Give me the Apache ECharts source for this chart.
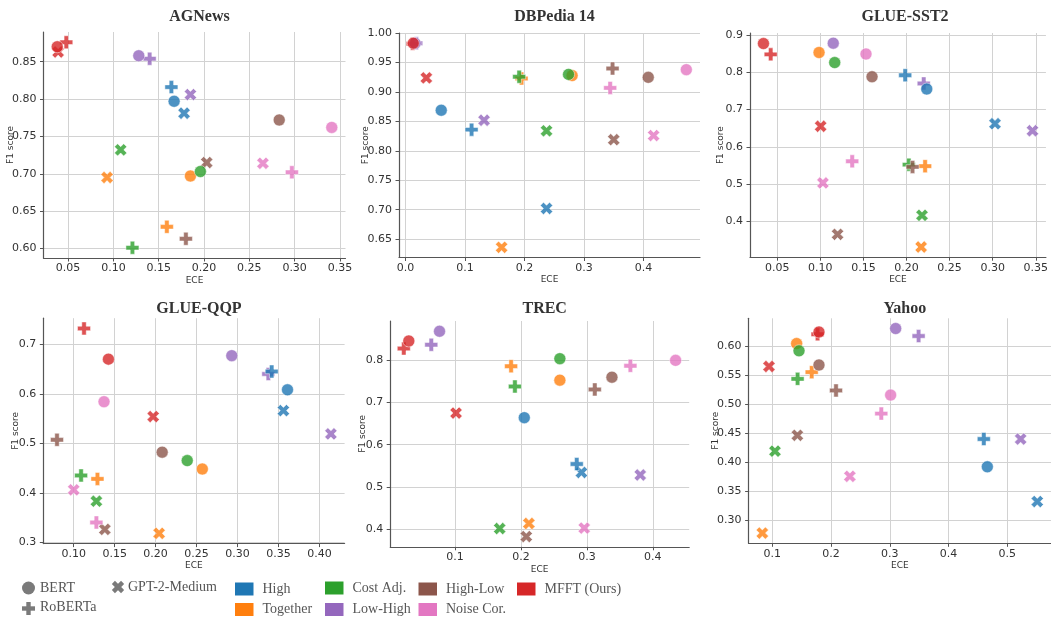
<!DOCTYPE html>
<html>
<head>
<meta charset="utf-8">
<script src="https://cdn.jsdelivr.net/npm/echarts@6/dist/echarts.min.js"></script>
<style>
html, body { margin: 0; padding: 0; background: #fff; }
#chart { width: 1051px; height: 619px; }
</style>
</head>
<body>
<div id="chart"></div>
<script>
// methods, in legend order
const methods = ['High', 'Together', 'Cost Adj.', 'Low-High', 'High-Low', 'Noise Cor.', 'MFFT (Ours)'];
const models = ['BERT', 'GPT-2-Medium', 'RoBERTa'];

// [ECE, F1] per method (same order as methods)
const agnewsBert    = [[0.167, 0.797], [0.185, 0.697], [0.196, 0.703], [0.128, 0.858], [0.283, 0.772], [0.341, 0.762], [0.038, 0.870]];
const agnewsGpt2    = [[0.178, 0.781], [0.093, 0.695], [0.108, 0.732], [0.185, 0.806], [0.203, 0.715], [0.265, 0.714], [0.039, 0.863]];
const agnewsRoberta = [[0.164, 0.816], [0.159, 0.629], [0.121, 0.601], [0.140, 0.854], [0.180, 0.613], [0.297, 0.702], [0.048, 0.876]];

const dbpediaBert    = [[0.060, 0.869], [0.280, 0.928], [0.274, 0.930], [0.016, 0.983], [0.408, 0.925], [0.472, 0.938], [0.013, 0.983]];
const dbpediaGpt2    = [[0.237, 0.702], [0.1615, 0.636], [0.237, 0.834], [0.132, 0.852], [0.350, 0.819], [0.417, 0.826], [0.035, 0.924]];
const dbpediaRoberta = [[0.111, 0.836], [0.195, 0.923], [0.191, 0.926], [0.018, 0.983], [0.348, 0.940], [0.344, 0.907], [0.012, 0.982]];

const sst2Bert    = [[0.2235, 0.755], [0.0985, 0.853], [0.1167, 0.826], [0.115, 0.878], [0.160, 0.788], [0.153, 0.849], [0.034, 0.877]];
const sst2Gpt2    = [[0.3027, 0.662], [0.217, 0.331], [0.218, 0.416], [0.3462, 0.643], [0.120, 0.365], [0.103, 0.503], [0.1004, 0.655]];
const sst2Roberta = [[0.1985, 0.792], [0.2216, 0.548], [0.2027, 0.552], [0.220, 0.770], [0.207, 0.546], [0.137, 0.561], [0.0424, 0.848]];

const qqpBert    = [[0.361, 0.608], [0.257, 0.448], [0.2386, 0.465], [0.293, 0.677], [0.208, 0.482], [0.137, 0.584], [0.1424, 0.670]];
const qqpGpt2    = [[0.356, 0.566], [0.2043, 0.318], [0.1277, 0.383], [0.414, 0.519], [0.138, 0.326], [0.100, 0.406], [0.197, 0.554]];
const qqpRoberta = [[0.3417, 0.645], [0.129, 0.428], [0.109, 0.435], [0.3376, 0.640], [0.0796, 0.507], [0.1277, 0.340], [0.1126, 0.732]];

const trecBert    = [[0.205, 0.664], [0.259, 0.753], [0.259, 0.804], [0.0764, 0.869], [0.338, 0.760], [0.4346, 0.800], [0.0298, 0.846]];
const trecGpt2    = [[0.2917, 0.534], [0.212, 0.413], [0.1677, 0.401], [0.381, 0.528], [0.208, 0.382], [0.296, 0.402], [0.1015, 0.675]];
const trecRoberta = [[0.2846, 0.554], [0.185, 0.786], [0.1908, 0.738], [0.0639, 0.837], [0.312, 0.731], [0.366, 0.787], [0.0222, 0.828]];

const yahooBert    = [[0.466, 0.392], [0.1414, 0.605], [0.1454, 0.5925], [0.310, 0.631], [0.1794, 0.568], [0.3014, 0.516], [0.1794, 0.625]];
const yahooGpt2    = [[0.551, 0.332], [0.083, 0.2775], [0.1045, 0.419], [0.5227, 0.440], [0.1426, 0.4465], [0.232, 0.3755], [0.0943, 0.5654]];
const yahooRoberta = [[0.460, 0.440], [0.167, 0.5556], [0.143, 0.544], [0.349, 0.618], [0.2084, 0.524], [0.2855, 0.484], [0.177, 0.621]];

const colors = ['#1f77b4', '#ff7f0e', '#2ca02c', '#9467bd', '#8c564b', '#e377c2', '#d62728'];
const drawOrder = [3, 5, 1, 2, 4, 0, 6];

const plusPath = 'path://M3.3,0H6.7V3.3H10V6.7H6.7V10H3.3V6.7H0V3.3H3.3Z';

const panels = [
  { title: 'AGNews', bert: agnewsBert, gpt2: agnewsGpt2, roberta: agnewsRoberta, box: [43.5, 32, 302, 226], xs: 0.05, ys: 0.05, xd: 2, yd: 2, yGap: 28.5, titleTop: 4 },
  { title: 'DBPedia 14', bert: dbpediaBert, gpt2: dbpediaGpt2, roberta: dbpediaRoberta, box: [399, 33, 301, 224.5], xs: 0.1, ys: 0.05, xd: 1, yd: 2, yGap: 29, titleTop: 4 },
  { title: 'GLUE-SST2', bert: sst2Bert, gpt2: sst2Gpt2, roberta: sst2Roberta, box: [750, 33, 300, 224.2], xs: 0.05, ys: 0.1, xd: 2, yd: 1, yGap: 25, titleTop: 4 },
  { title: 'GLUE-QQP', bert: qqpBert, gpt2: qqpGpt2, roberta: qqpRoberta, box: [43.3, 318.2, 301.3, 225.4], xs: 0.05, ys: 0.1, xd: 2, yd: 1, yGap: 23, titleTop: 296 },
  { title: 'TREC', bert: trecBert, gpt2: trecGpt2, roberta: trecRoberta, box: [390.2, 321, 299, 225.8], xs: 0.1, ys: 0.1, xd: 1, yd: 1, yGap: 23, titleTop: 296 },
  { title: 'Yahoo', bert: yahooBert, gpt2: yahooGpt2, roberta: yahooRoberta, box: [748.6, 318.3, 302.4, 225], xs: 0.1, ys: 0.05, xd: 1, yd: 2, yGap: 28.5, titleTop: 296 }
];

function padded(vals) {
  const lo = Math.min(...vals), hi = Math.max(...vals);
  const m = (hi - lo) * 0.05;
  return [lo - m, hi + m];
}

const titles = [], grids = [], xAxes = [], yAxes = [], series = [];

panels.forEach((p, i) => {
  const all = p.bert.concat(p.gpt2, p.roberta);
  const xr = padded(all.map(d => d[0]));
  const yr = padded(all.map(d => d[1]));
  const [l, t, w, h] = p.box;

  titles.push({
    text: p.title,
    left: l + w / 2,
    top: p.titleTop,
    textAlign: 'center',
    textStyle: { fontFamily: 'Liberation Serif', fontWeight: 'bold', fontSize: 16, color: '#333' }
  });
  grids.push({ left: l, top: t, width: w, height: h, containLabel: false });

  const axisCommon = {
    gridIndex: i,
    type: 'value',
    axisLine: { show: true, onZero: false, lineStyle: { color: '#555', width: 1.2 } },
    axisTick: { show: true, length: 3.5, lineStyle: { color: '#555', width: 1 } },
    splitLine: { show: true, showMinLine: false, showMaxLine: false, lineStyle: { color: '#d2d2d2', width: 1 } },
    nameLocation: 'middle',
    nameMoveOverlap: false,
    nameTextStyle: { fontFamily: 'DejaVu Sans', fontSize: 9, color: '#333' }
  };
  xAxes.push(Object.assign({}, axisCommon, {
    min: xr[0], max: xr[1], minInterval: p.xs, maxInterval: p.xs,
    name: 'ECE', nameGap: 18,
    axisLabel: { fontFamily: 'DejaVu Sans', fontSize: 11, color: '#333', margin: 5,
      showMinLabel: false, showMaxLabel: false, formatter: v => v.toFixed(p.xd) }
  }));
  yAxes.push(Object.assign({}, axisCommon, {
    min: yr[0], max: yr[1], minInterval: p.ys, maxInterval: p.ys,
    name: 'F1 score', nameGap: p.yGap,
    axisLabel: { fontFamily: 'DejaVu Sans', fontSize: 11, color: '#333', margin: 7,
      showMinLabel: false, showMaxLabel: false, formatter: v => v.toFixed(p.yd) }
  }));

  const layers = [
    { rows: p.gpt2, symbol: plusPath, size: 13, rotate: 45 },
    { rows: p.roberta, symbol: plusPath, size: 13, rotate: 0 },
    { rows: p.bert, symbol: 'circle', size: 12, rotate: 0 }
  ];
  layers.forEach(ly => {
    series.push({
      type: 'scatter',
      xAxisIndex: i,
      yAxisIndex: i,
      symbol: ly.symbol,
      symbolSize: ly.size,
      symbolRotate: ly.rotate,
      silent: true,
      data: drawOrder.map(k => ({
        value: ly.rows[k],
        itemStyle: { color: colors[k], borderColor: '#fff', borderWidth: 0.6 }
      }))
    });
  });
});

// legend drawn as graphics
const legendFont = { fontFamily: 'Liberation Serif', fontSize: 14, fill: '#555' };
const grey = '#7a7a7a';
function label(text, x, y) {
  return { type: 'text', x: x, y: y, style: Object.assign({ text: text, verticalAlign: 'middle' }, legendFont) };
}
function cross(x, y, rot) {
  return {
    type: 'group', x: x, y: y, rotation: rot,
    children: [
      { type: 'rect', shape: { x: -6.5, y: -2.2, width: 13, height: 4.4 }, style: { fill: grey } },
      { type: 'rect', shape: { x: -2.2, y: -6.5, width: 4.4, height: 13 }, style: { fill: grey } }
    ]
  };
}
const graphics = [
  { type: 'circle', shape: { cx: 28.5, cy: 588, r: 6.5 }, style: { fill: grey } },
  label(models[0], 40, 588),
  cross(118, 587, Math.PI / 4),
  label(models[1], 128, 587),
  cross(28.5, 608.5, 0),
  label(models[2], 40, 607.5)
];
const legendSlots = [[235, 589], [235, 609.5], [325, 588], [325, 609.5], [418.5, 589], [418.5, 609.5], [517, 589]];
methods.forEach((m, k) => {
  const [x, y] = legendSlots[k];
  graphics.push({ type: 'rect', shape: { x: x, y: y - 6.5, width: 18.5, height: 13 }, style: { fill: colors[k] } });
  graphics.push(label(m, x + 27.5, y));
});

const chart = echarts.init(document.getElementById('chart'));
chart.setOption({
  animation: false,
  backgroundColor: '#fff',
  title: titles,
  grid: grids,
  xAxis: xAxes,
  yAxis: yAxes,
  series: series,
  graphic: graphics
});
</script>
</body>
</html>
